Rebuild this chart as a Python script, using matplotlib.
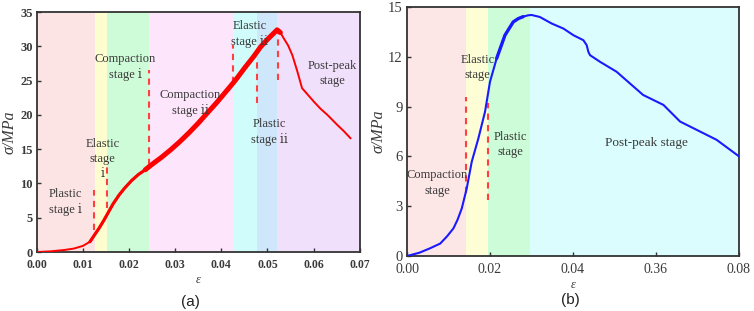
import matplotlib
matplotlib.use("Agg")
import matplotlib.pyplot as plt
import numpy as np

# ---------------- data: panel (a) ----------------
eps_a = [0, 0.003, 0.006, 0.008, 0.010, 0.0115, 0.0125, 0.0135, 0.0145, 0.0155, 0.0165,
         0.0178, 0.019, 0.0205, 0.022, 0.0235, 0.025, 0.027, 0.029, 0.031, 0.033, 0.035,
         0.037, 0.039, 0.041, 0.043, 0.045, 0.047, 0.0485, 0.0500, 0.0512, 0.0521,
         0.0528, 0.0535, 0.0545, 0.0554, 0.0565, 0.0575, 0.0588, 0.0601, 0.0615, 0.0630,
         0.0652, 0.0666, 0.0680]
sig_a = [0, 0.1, 0.3, 0.5, 0.9, 1.5, 2.5, 3.5, 4.6, 5.8, 7.0,
         8.3, 9.3, 10.4, 11.3, 12.0, 12.8, 13.8, 14.9, 16.1, 17.4, 18.8,
         20.3, 21.8, 23.4, 25.0, 26.8, 28.5, 29.9, 31.0, 31.8, 32.4,
         32.0, 31.2, 30.1, 28.7, 26.3, 23.9, 22.9, 21.9, 20.9, 20.0,
         18.5, 17.6, 16.6]
bands_a = [0, 0.0125, 0.0153, 0.0243, 0.0425, 0.0478, 0.0521, 0.07]
band_colors_a = ["#fde4e4", "#fdfdcf", "#cefcd8", "#fde6fb", "#d0fcfc", "#cfe7fb", "#f1e0fb"]
dash_x_a = [0.0123, 0.0153, 0.0243, 0.0425, 0.0478, 0.0522]
dash_lo_a = [3.2, 6.4, 12.7, 24.6, 21.7, 25.1]
dash_hi_a = [9.0, 12.7, 26.5, 30.2, 28.4, 31.9]
labels_a = ["Plastic\nstage ⅰ", "Elastic\nstage\nⅰ", "Compaction\nstage ⅰ", "Compaction\nstage ⅱ",
            "Elastic\nstage ⅱ", "Plastic\nstage ⅱ", "Post-peak\nstage"]
lab_x_a = [0.0061, 0.0143, 0.0192, 0.0333, 0.0461, 0.0505, 0.0640]
lab_y_a = [7.3, 13.6, 27.0, 21.7, 31.8, 17.5, 26.0]
xticks_a = [0, 0.01, 0.02, 0.03, 0.04, 0.05, 0.06, 0.07]
xticklabels_a = ["0.00", "0.01", "0.02", "0.03", "0.04", "0.05", "0.06", "0.07"]
yticks_a = [0, 5, 10, 15, 20, 25, 30, 35]

# ---------------- data: panel (b) ----------------
eps_b = [0, 0.003, 0.0055, 0.0080, 0.0097, 0.0112, 0.0122, 0.0132, 0.0144, 0.0156, 0.0172,
         0.0188, 0.0200, 0.0216, 0.0236, 0.0256, 0.0268, 0.0280, 0.0292, 0.0300, 0.0320,
         0.0349, 0.0377, 0.0401, 0.0425, 0.0433, 0.0437, 0.0441, 0.0465, 0.0505, 0.0537,
         0.0569, 0.0618, 0.0658, 0.0698, 0.0746, 0.0798, 0.0800]
sig_b = [0, 0.2, 0.46, 0.75, 1.2, 1.67, 2.2, 2.87, 4.08, 5.68, 7.09,
         8.69, 10.5, 11.9, 13.3, 14.1, 14.3, 14.42, 14.5, 14.52, 14.4,
         14.0, 13.7, 13.3, 13.0, 12.7, 12.3, 12.1, 11.7, 11.1, 10.4,
         9.7, 9.1, 8.1, 7.6, 7.0, 6.04, 6.0]
bands_b = [0, 0.0142, 0.0194, 0.0297, 0.08]
band_colors_b = ["#fde6e6", "#fdfdd6", "#cdfcd8", "#dcfdfd"]
dash_x_b = [0.0142, 0.0194]
dash_lo_b = [3.8, 3.4]
dash_hi_b = [9.6, 9.2]
labels_b = ["Compaction\nstage", "Elastic\nstage", "Plastic\nstage", "Post-peak stage"]
lab_x_b = [0.0072, 0.0170, 0.0250, 0.0578]
lab_y_b = [4.4, 11.35, 6.7, 6.8]
xticks_b = [0, 0.02, 0.04, 0.06, 0.08]
xticklabels_b = ["0.00", "0.02", "0.04", "0.36", "0.08"]
yticks_b = [0, 3, 6, 9, 12, 15]

serif = "Liberation Serif"
txt_color = "#3a3a3a"

fig = plt.figure(figsize=(7.54, 3.11), dpi=100)
axa = fig.add_axes([0.049, 0.1897, 0.428, 0.7717])
axb = fig.add_axes([0.5398, 0.1768, 0.4403, 0.8007])

def style(ax, bold):
    for s in ax.spines.values():
        s.set_linewidth(1.3)
        s.set_color("#333333")
    ax.tick_params(direction="in", length=3, width=1, colors="#333333")
    ax.tick_params(axis="x", pad=5)
    ax.tick_params(axis="y", pad=3)
    for lab in ax.get_xticklabels() + ax.get_yticklabels():
        lab.set_fontfamily(serif)
        lab.set_fontweight("bold" if bold else "normal")
        lab.set_color(txt_color)

# ----- panel (a) -----
for i, c in enumerate(band_colors_a):
    axa.axvspan(bands_a[i], bands_a[i + 1], color=c, lw=0, zorder=0)
for x, lo, hi in zip(dash_x_a, dash_lo_a, dash_hi_a):
    axa.plot([x, x], [lo, hi], ls=(0, (3, 2.5)), color="#ff4040", lw=1.5, zorder=2)
axa.plot(eps_a, sig_a, color="#ff0000", lw=1.4, zorder=3)
axa.plot(eps_a[5:16], sig_a[5:16], color="#ff0000", lw=2.3, zorder=3, solid_capstyle="round")
axa.plot(eps_a[15:33], sig_a[15:33], color="#ff0000", lw=3.6, zorder=3, solid_capstyle="round")
for t, x, y in zip(labels_a, lab_x_a, lab_y_a):
    axa.text(x, y, t, ha="center", va="center", fontsize=9, family=[serif, "DejaVu Serif"],
             color=txt_color, linespacing=1.35, zorder=4)
axa.set_xlim(0, 0.07)
axa.set_ylim(0, 35)
axa.set_xticks(xticks_a)
axa.set_xticklabels(xticklabels_a, fontsize=8.5)
axa.set_yticks(yticks_a)
axa.set_yticklabels([str(v) for v in yticks_a], fontsize=9)
style(axa, True)
axa.set_ylabel("σ/MPa", fontsize=11.5, family=serif, style="italic", color=txt_color, labelpad=2)
axa.set_xlabel("ε", fontsize=9, family=serif, style="italic", color=txt_color, labelpad=2)

# ----- panel (b) -----
for i, c in enumerate(band_colors_b):
    axb.axvspan(bands_b[i], bands_b[i + 1], color=c, lw=0, zorder=0)
for x, lo, hi in zip(dash_x_b, dash_lo_b, dash_hi_b):
    axb.plot([x, x], [lo, hi], ls=(0, (3, 2.5)), color="#ff4040", lw=1.5, zorder=2)
axb.plot(eps_b, sig_b, color="#1a1aff", lw=1.5, zorder=3)
axb.plot(eps_b[13:18], sig_b[13:18], color="#1a1aff", lw=2.4, zorder=3, solid_capstyle="round")
for t, x, y in zip(labels_b, lab_x_b, lab_y_b):
    axb.text(x, y, t, ha="center", va="center", fontsize=9.5 if t.startswith("Post") else 9,
             family=serif, color=txt_color, linespacing=1.35, zorder=4)
axb.set_xlim(0, 0.08)
axb.set_ylim(0, 15)
axb.set_xticks(xticks_b)
axb.set_xticklabels(xticklabels_b, fontsize=10)
axb.set_yticks(yticks_b)
axb.set_yticklabels([str(v) for v in yticks_b], fontsize=10.5)
style(axb, False)
axb.set_ylabel("σ/MPa", fontsize=11.5, family=serif, style="italic", color=txt_color, labelpad=1)
axb.set_xlabel("ε", fontsize=9, family=serif, style="italic", color=txt_color, labelpad=2)

fig.text(190 / 754, 1 - 302 / 311, "(a)", ha="center", va="center", fontsize=11,
         family="Liberation Sans", color="#222222")
fig.text(570 / 754, 1 - 300 / 311, "(b)", ha="center", va="center", fontsize=11,
         family="Liberation Sans", color="#222222")

fig.savefig("out.png", dpi=100)
